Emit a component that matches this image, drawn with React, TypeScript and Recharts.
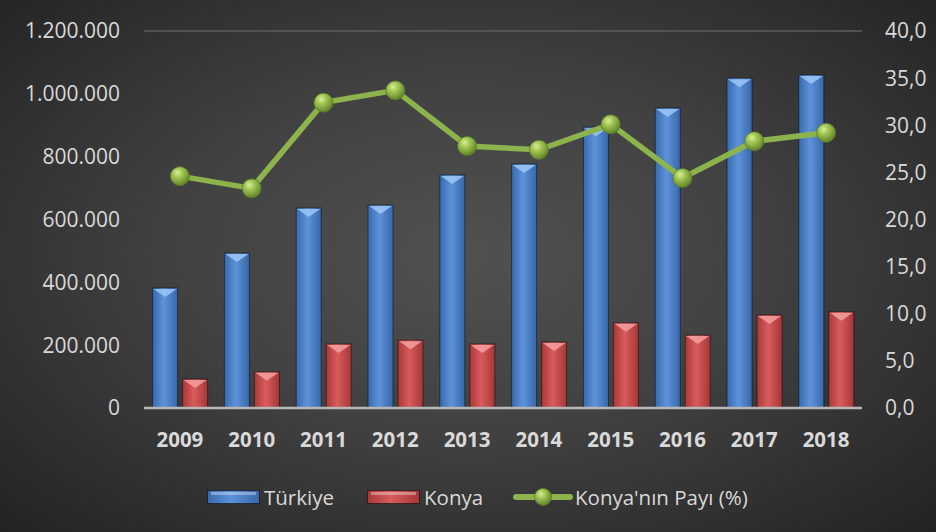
import { ComposedChart, Bar, Line, XAxis, YAxis, CartesianGrid } from 'recharts'

const years = ['2009', '2010', '2011', '2012', '2013', '2014', '2015', '2016', '2017', '2018']
const turkiye = [382000, 493000, 637000, 646000, 742000, 777000, 894000, 955000, 1050000, 1060000]
const konya = [92000, 115000, 204000, 216000, 204000, 210000, 271000, 232000, 296000, 306000]
const konyaPayi = [24.6, 23.3, 32.4, 33.7, 27.8, 27.4, 30.1, 24.4, 28.3, 29.2]

const leftTicks = [0, 200000, 400000, 600000, 800000, 1000000, 1200000]
const rightTicks = [0, 5, 10, 15, 20, 25, 30, 35, 40]

const data = years.map((y, i) => ({
    year: y,
    turkiye: turkiye[i],
    konya: konya[i],
    pay: konyaPayi[i],
}))

const TEXT = '#d9d9d9'
const FONT = '"Open Sans", sans-serif'

const fmtThousands = (v: number) => v.toString().replace(/\B(?=(\d{3})+(?!\d))/g, '.')
const fmtPct = (v: number) => v.toFixed(1).replace('.', ',')

// bar with a bevelled top like the office 3D style
const BevelBar = (props: any) => {
    const { x, y, width, height, gradId, topColor } = props
    if (!height || height <= 0) return null
    const bevel = Math.min(9, height)
    return (
        <g>
            <rect x={x} y={y} width={width} height={height} fill={`url(#${gradId})`} stroke="rgba(0,0,0,0.45)" strokeWidth={1} />
            <polygon
                points={`${x + 1},${y + 1} ${x + width - 1},${y + 1} ${x + width / 2},${y + bevel}`}
                fill={topColor}
                opacity={0.85}
            />
        </g>
    )
}

const Ball = (props: any) => {
    const { cx, cy } = props
    if (cx == null || cy == null) return null
    return <circle cx={cx} cy={cy} r={9.5} fill="url(#ballGrad)" stroke="#5a7a28" strokeWidth={0.8} />
}

const Defs = () => (
    <defs>
        <linearGradient id="blueGrad" x1="0" y1="0" x2="1" y2="0">
            <stop offset="0%" stopColor="#3869ad" />
            <stop offset="45%" stopColor="#5d92da" />
            <stop offset="100%" stopColor="#3767a9" />
        </linearGradient>
        <linearGradient id="redGrad" x1="0" y1="0" x2="1" y2="0">
            <stop offset="0%" stopColor="#ab3838" />
            <stop offset="45%" stopColor="#d85c5c" />
            <stop offset="100%" stopColor="#a63636" />
        </linearGradient>
        <radialGradient id="ballGrad" cx="0.38" cy="0.32" r="0.7">
            <stop offset="0%" stopColor="#d9ee9a" />
            <stop offset="35%" stopColor="#a4c856" />
            <stop offset="100%" stopColor="#5f8228" />
        </radialGradient>
    </defs>
)

function LegendBox({ gradId }: { gradId: string }) {
    return (
        <svg width={53} height={16} style={{ display: 'block' }}>
            <Defs />
            <rect x={0.5} y={1.5} width={52} height={13} fill={`url(#${gradId})`} stroke="rgba(0,0,0,0.5)" />
            <rect x={4} y={3} width={45} height={3} fill="rgba(255,255,255,0.35)" />
        </svg>
    )
}

export default function App() {
    return (
        <div
            style={{
                position: 'absolute',
                left: 0,
                top: 0,
                width: 936,
                height: 532,
                background: 'radial-gradient(ellipse at 50% 48%, #515151 0%, #414141 45%, #232323 100%)',
                fontFamily: FONT,
            }}
        >
            <ComposedChart
                width={936}
                height={532}
                data={data}
                margin={{ top: 31, right: 0, bottom: 0, left: 0 }}
                barCategoryGap="12%"
                barGap={5}
            >
                <Defs />
                <CartesianGrid vertical={false} stroke="#5c5c5c" strokeWidth={1.5} />
                <XAxis
                    dataKey="year"
                    height={124}
                    tickLine={false}
                    axisLine={{ stroke: '#b8b8b8', strokeWidth: 2.5 }}
                    tickMargin={18}
                    tick={{ fill: TEXT, fontSize: 20.5, fontWeight: 700, fontFamily: FONT }}
                />
                <YAxis
                    yAxisId="left"
                    width={144}
                    domain={[0, 1200000]}
                    ticks={leftTicks}
                    tickFormatter={fmtThousands}
                    axisLine={false}
                    tickLine={false}
                    tickMargin={18}
                    tick={{ fill: TEXT, fontSize: 21, fontFamily: FONT }}
                />
                <YAxis
                    yAxisId="right"
                    orientation="right"
                    width={74}
                    domain={[0, 40]}
                    ticks={rightTicks}
                    tickFormatter={fmtPct}
                    axisLine={false}
                    tickLine={false}
                    tickMargin={17}
                    tick={{ fill: TEXT, fontSize: 21, fontFamily: FONT }}
                />
                <Bar
                    yAxisId="left"
                    dataKey="turkiye"
                    name="Türkiye"
                    isAnimationActive={false}
                    shape={(p: any) => <BevelBar {...p} gradId="blueGrad" topColor="#9cc8f4" />}
                />
                <Bar
                    yAxisId="left"
                    dataKey="konya"
                    name="Konya"
                    isAnimationActive={false}
                    shape={(p: any) => <BevelBar {...p} gradId="redGrad" topColor="#f4a0a0" />}
                />
                <Line
                    yAxisId="right"
                    dataKey="pay"
                    name="Konya'nın Payı (%)"
                    stroke="#8db44c"
                    strokeWidth={5.5}
                    isAnimationActive={false}
                    dot={<Ball />}
                    activeDot={false}
                />
            </ComposedChart>

            {/* legend */}
            <div style={{ position: 'absolute', left: 207, top: 483, display: 'flex', alignItems: 'center' }}>
                <LegendBox gradId="blueGrad" />
                <span style={{ color: TEXT, fontSize: 20.5, marginLeft: 4 }}>Türkiye</span>
            </div>
            <div style={{ position: 'absolute', left: 367, top: 483, display: 'flex', alignItems: 'center' }}>
                <LegendBox gradId="redGrad" />
                <span style={{ color: TEXT, fontSize: 20.5, marginLeft: 4 }}>Konya</span>
            </div>
            <div style={{ position: 'absolute', left: 513, top: 483, display: 'flex', alignItems: 'center' }}>
                <svg width={60} height={22} style={{ display: 'block' }}>
                    <Defs />
                    <line x1={3} y1={11} x2={57} y2={11} stroke="#8db44c" strokeWidth={6} strokeLinecap="round" />
                    <circle cx={30} cy={11} r={8.5} fill="url(#ballGrad)" stroke="#5a7a28" strokeWidth={0.8} />
                </svg>
                <span style={{ color: TEXT, fontSize: 20.5, marginLeft: 2 }}>Konya'nın Payı (%)</span>
            </div>
        </div>
    )
}
